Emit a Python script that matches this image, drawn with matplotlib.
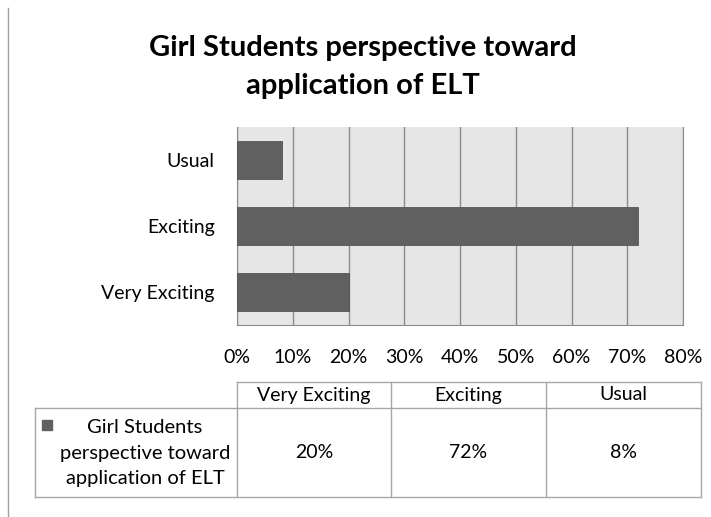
import matplotlib
matplotlib.use("Agg")
import matplotlib.pyplot as plt
from matplotlib.patches import Rectangle
from matplotlib.lines import Line2D

categories = ["Very Exciting", "Exciting", "Usual"]
values = [20, 72, 8]
series_name = "Girl Students\nperspective toward\napplication of ELT"
title = "Girl Students perspective toward\napplication of ELT"
xticks = [0, 10, 20, 30, 40, 50, 60, 70, 80]

W, H = 711, 517
plt.rcParams['font.family'] = ['Lato', 'DejaVu Sans']
fig = plt.figure(figsize=(W / 100, H / 100), dpi=100)
fig.patch.set_facecolor("white")

def px(x0, y0, x1, y1):
    return [x0 / W, 1 - y1 / H, (x1 - x0) / W, (y1 - y0) / H]

bar_color = "#606060"
grid_color = "#8c8c8c"
border = "#a6a6a6"

# left border line
fig.add_artist(Line2D([8 / W, 8 / W], [0, 1 - 8 / H], color="#a0a0a0", lw=1))

fig.text(363 / W, 1 - 67 / H, title, ha="center", va="center", fontsize=21,
         fontweight="bold", linespacing=1.55)

ax = fig.add_axes(px(237, 127, 683, 325))
ax.set_facecolor("#e6e6e6")
ax.barh(range(len(categories)), values, height=0.58, color=bar_color,
        edgecolor="#555555", linewidth=0.6, zorder=3)
ax.set_xlim(0, 80)
ax.set_ylim(-0.5, len(categories) - 0.5)
ax.set_yticks(range(len(categories)))
ax.set_yticklabels(categories, fontsize=14)
ax.set_xticks(xticks)
ax.set_xticklabels([f"{t}%" for t in xticks], fontsize=14)
ax.tick_params(length=0, pad=16, axis="y")
ax.tick_params(length=0, pad=17, axis="x")
ax.xaxis.grid(True, color=grid_color, lw=1, zorder=1)
for s in ["top", "right"]:
    ax.spines[s].set_visible(False)
ax.spines["left"].set_color(grid_color)
ax.spines["bottom"].set_color(grid_color)
ax.spines["right"].set_visible(True)
ax.spines["right"].set_color(grid_color)

# data table
tx = fig.add_axes([0, 0, 1, 1])
tx.set_xlim(0, W)
tx.set_ylim(H, 0)
tx.axis("off")
cols = [35, 237, 391, 546, 701]
y_top, y_mid, y_bot = 382, 408, 497
lw = 1
tx.plot([cols[1], cols[-1]], [y_top, y_top], color=border, lw=lw)
tx.plot([cols[0], cols[-1]], [y_mid, y_mid], color=border, lw=lw)
tx.plot([cols[0], cols[-1]], [y_bot, y_bot], color=border, lw=lw)
tx.plot([cols[0], cols[0]], [y_mid, y_bot], color=border, lw=lw)
for c in cols[1:]:
    tx.plot([c, c], [y_top, y_bot], color=border, lw=lw)
for i, cat in enumerate(categories):
    cx = (cols[i + 1] + cols[i + 2]) / 2
    tx.text(cx, (y_top + y_mid) / 2, cat, ha="center", va="center", fontsize=14)
    tx.text(cx, (y_mid + y_bot) / 2, f"{values[i]}%", ha="center", va="center", fontsize=14)
tx.add_patch(Rectangle((42, 420), 10, 10, color=bar_color))
tx.text(145, 453, series_name, ha="center", va="center",
        fontsize=14.5, linespacing=1.6)

fig.savefig("out.png", dpi=100)
